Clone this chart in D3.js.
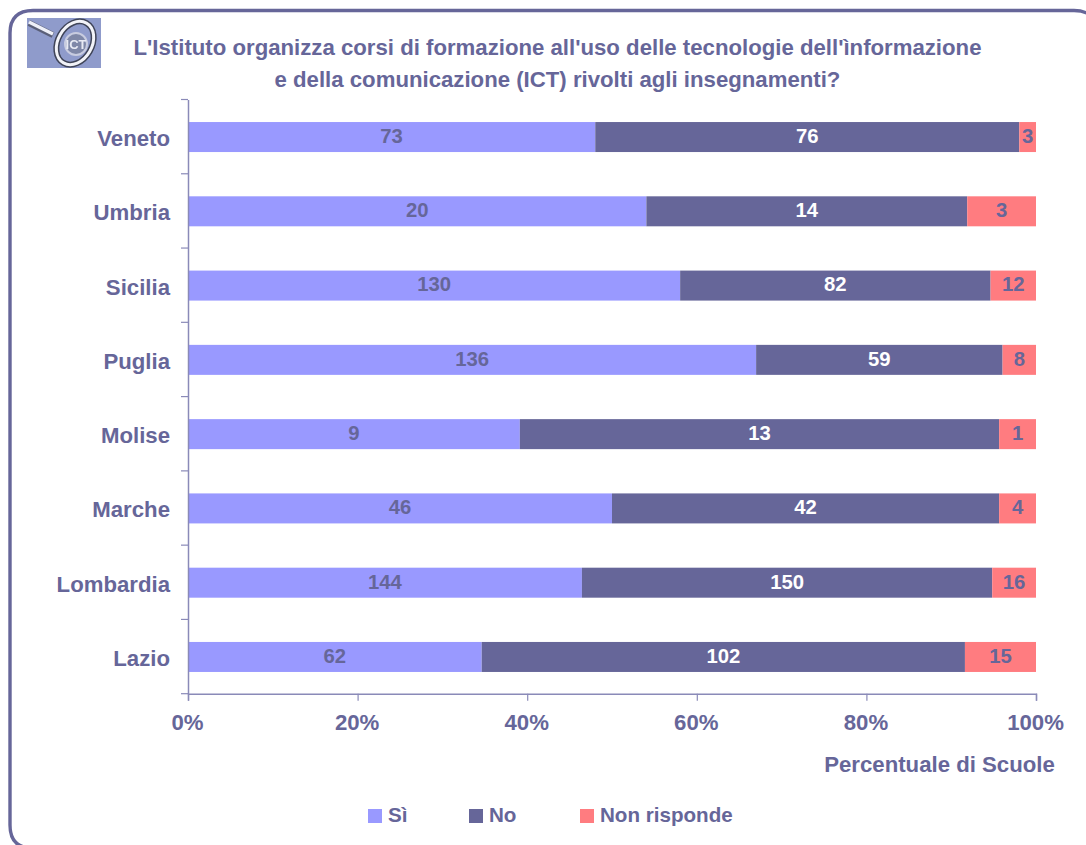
<!DOCTYPE html>
<html><head><meta charset="utf-8">
<script src="https://cdn.jsdelivr.net/npm/d3@7"></script>
<style>html,body{margin:0;padding:0;background:#fff}svg{display:block}text{font-family:"Liberation Sans",Arial,sans-serif;font-weight:bold}</style>
</head><body><div id="c"></div>
<script>
const categories=["Veneto","Umbria","Sicilia","Puglia","Molise","Marche","Lombardia","Lazio"];
const si=[73,20,130,136,9,46,144,62];
const no=[76,14,82,59,13,42,150,102];
const nr=[3,3,12,8,1,4,16,15];
const seriesNames=["Sì","No","Non risponde"];
const colors=["#9999FF","#666699","#FF7C80"];
const labelColors=["#666699","#FFFFFF","#666699"];
const xTicks=[0,.2,.4,.6,.8,1];
const titleLines=["L'Istituto organizza corsi di formazione all'uso delle tecnologie dell'ìnformazione","e della comunicazione (ICT) rivolti agli insegnamenti?"];
const ink="#666699";
const W=1086,H=845;
const svg=d3.select("#c").append("svg").attr("width",W).attr("height",H);
const defs=svg.append("defs");
defs.append("filter").attr("id","soft").append("feGaussianBlur").attr("stdDeviation",0.7);
// frame
svg.append("path").attr("d","M1097,34 Q1097,10.5 1074,10.5 H33 Q10,10.5 10,33 V825 Q10,848 32,848 H1100").attr("fill","none").attr("stroke",ink).attr("stroke-width",3.4);
// logo
const lg=svg.append("g").attr("transform","translate(27,18)");
lg.append("rect").attr("width",74).attr("height",50).attr("fill","#8F9BCB");
const lgi=lg.append("g").attr("filter","url(#soft)");
lgi.append("line").attr("x1",2).attr("y1",5).attr("x2",26).attr("y2",17).attr("stroke","#5a5f78").attr("stroke-width",6);
lgi.append("line").attr("x1",2).attr("y1",4).attr("x2",26).attr("y2",16).attr("stroke","#eef0f8").attr("stroke-width",3.5);
lgi.append("ellipse").attr("cx",48).attr("cy",25).attr("rx",17).attr("ry",23).attr("transform","rotate(30 48 25)").attr("fill","none").attr("stroke","#3f4458").attr("stroke-width",6);
lgi.append("ellipse").attr("cx",48).attr("cy",25).attr("rx",17).attr("ry",23).attr("transform","rotate(30 48 25)").attr("fill","none").attr("stroke","#f2f3f8").attr("stroke-width",3);
lgi.append("circle").attr("cx",49).attr("cy",26).attr("r",11).attr("fill","#7f88a8").attr("stroke","#c8cce0").attr("stroke-width",2);
lgi.append("text").attr("x",49).attr("y",31).attr("text-anchor","middle").attr("font-size",13).attr("fill","#e8eaf4").text("ICT");
// title
svg.append("g").selectAll("text").data(titleLines).join("text").attr("x",557.5).attr("y",(d,i)=>55+i*32).attr("text-anchor","middle").attr("font-size",22.2).attr("fill",ink).text(d=>d);
// scales
const x=d3.scaleLinear().domain([0,1]).range([188,1036]);
const y=d3.scaleBand().domain(categories).range([99.5,693.7]).paddingInner(0).paddingOuter(0);
const barH=30;
const rows=categories.map((c,i)=>({c,v:[si[i],no[i],nr[i]]}));
const g=svg.append("g");
rows.forEach(r=>{
  const tot=d3.sum(r.v);let cum=0;
  r.v.forEach((v,j)=>{
    const a=cum/tot,b=(cum+v)/tot;cum+=v;
    const yc=y(r.c)+y.bandwidth()/2;
    g.append("rect").attr("x",x(a)).attr("y",yc-barH/2+.4).attr("width",x(b)-x(a)).attr("height",barH).attr("fill",colors[j]);
    g.append("text").attr("x",(x(a)+x(b))/2).attr("y",yc+6.3).attr("text-anchor","middle").attr("font-size",20.3).attr("fill",labelColors[j]).text(v);
  });
});
// axes
const axisCol="#8A8AB8";
const yAxis=d3.axisLeft(y).tickSize(0).tickPadding(18);
const ya=svg.append("g").attr("transform","translate(188,0)").call(yAxis);
ya.select(".domain").attr("stroke",axisCol).attr("stroke-width",1.5);
ya.selectAll("text").attr("font-size",22.2).attr("fill",ink).attr("dy","0.42em");
const yTickPos=d3.range(categories.length+1).map(i=>y.range()[0]+i*y.step());
svg.append("g").selectAll("line").data(yTickPos).join("line").attr("x1",181).attr("x2",188).attr("y1",d=>d).attr("y2",d=>d).attr("stroke",axisCol).attr("stroke-width",1.2);
const xa=svg.append("g").attr("transform","translate(0,693.7)").call(d3.axisBottom(x).tickValues(xTicks).tickFormat(d3.format(".0%")).tickSize(7).tickPadding(14));
xa.select(".domain").attr("stroke",axisCol).attr("stroke-width",1.5);
xa.selectAll("line").attr("stroke",axisCol).attr("stroke-width",1.2);
xa.selectAll("text").attr("font-size",22.2).attr("fill",ink).attr("dx",-1);
svg.append("text").attr("x",939.5).attr("y",772).attr("text-anchor","middle").attr("font-size",22.2).attr("fill",ink).text("Percentuale di Scuole");
// legend
const lx=[368,469,580];
const lgd=svg.append("g").selectAll("g").data(seriesNames).join("g").attr("transform",(d,i)=>`translate(${lx[i]},809)`);
lgd.append("rect").attr("width",14).attr("height",14).attr("fill",(d,i)=>colors[i]);
lgd.append("text").attr("x",20).attr("y",13).attr("font-size",20.6).attr("fill",ink).text(d=>d);
</script></body></html>
